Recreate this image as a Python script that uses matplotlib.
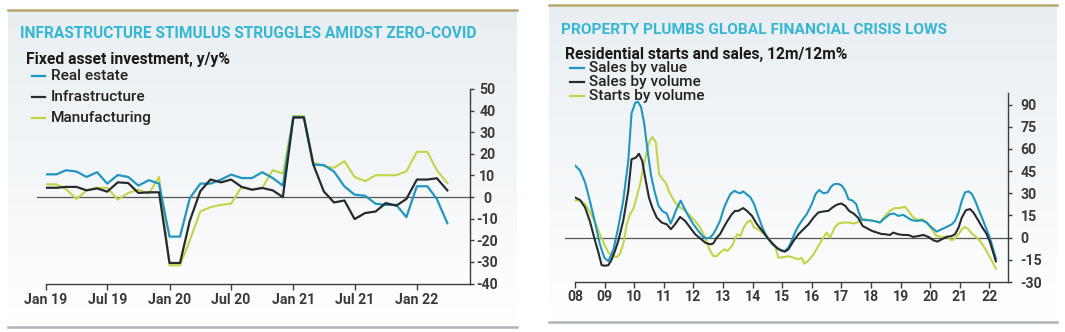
import numpy as np
import pandas as pd
import matplotlib
matplotlib.use("Agg")
import matplotlib.pyplot as plt
from matplotlib.lines import Line2D
from matplotlib.colors import LinearSegmentedColormap

plt.rcParams['font.family'] = ['Roboto', 'DejaVu Sans']

# ---------------- data: left chart (Fixed asset investment, y/y%) ----------------
fai_dates = pd.date_range("2019-01-01", periods=40, freq="MS")
real_estate = [10.5, 10.5, 12.4, 11.8, 9.3, 11.5, 6.2, 10.2, 9.3, 5.3, 7.8, 6.2,
               -18.3, -18.3, -0.5, 6.2, 6.2, 8.1, 10.4, 8.8, 8.8, 11.5, 8.8, 5.3,
               37.0, 37.0, 15.0, 14.8, 11.8, 4.9, 1.1, 0.6, -3.1, -3.6, -3.6, -9.3,
               5.0, 5.0, -0.9, -12.1]
infrastructure = [4.3, 4.3, 4.7, 4.7, 3.1, 4.0, 2.5, 6.8, 6.5, 1.9, 2.2, 2.2,
                  -30.5, -30.5, -11.0, 2.7, 8.1, 6.8, 8.1, 4.7, 3.4, 4.2, 3.1, 0.0,
                  36.8, 36.8, 15.0, 2.6, -2.5, -1.6, -10.2, -7.4, -6.7, -2.8, -4.0, -0.9,
                  8.1, 8.1, 8.7, 3.1]
manufacturing = [5.9, 5.9, 3.7, -0.9, 3.1, 4.3, 4.3, -1.2, 1.9, 3.4, 1.6, 9.3,
                 -31.6, -31.6, -20.0, -6.7, -4.7, -3.6, -3.1, 4.7, 3.4, 4.2, 12.4, 10.9,
                 37.5, 37.5, 16.0, 14.3, 13.5, 16.6, 9.3, 7.3, 10.1, 10.1, 10.1, 11.9,
                 20.9, 20.9, 12.4, 6.5]
fai_names = ["Real estate", "Infrastructure", "Manufacturing"]
fai_ticks = ["Jan 19", "Jul 19", "Jan 20", "Jul 20", "Jan 21", "Jul 21", "Jan 22"]

# ---------------- data: right chart (Residential starts and sales, 12m/12m%) ----------------
val_t = [2008.00, 2008.17, 2008.34, 2008.50, 2008.68, 2008.84, 2008.99, 2009.13, 2009.30, 2009.46,
         2009.63, 2009.80, 2009.91, 2010.03, 2010.12, 2010.23, 2010.34, 2010.45, 2010.57, 2010.68,
         2010.82, 2010.95, 2011.10, 2011.23, 2011.32, 2011.43, 2011.57, 2011.68, 2011.83, 2012.00,
         2012.17, 2012.33, 2012.45, 2012.56, 2012.67, 2012.79, 2012.90, 2013.02, 2013.14, 2013.25,
         2013.39, 2013.48, 2013.59, 2013.68, 2013.79, 2013.93, 2014.05, 2014.19, 2014.33, 2014.50,
         2014.67, 2014.82, 2014.96, 2015.09, 2015.21, 2015.32, 2015.43, 2015.55, 2015.66, 2015.83,
         2016.00, 2016.13, 2016.25, 2016.39, 2016.54, 2016.65, 2016.77, 2016.90, 2017.02, 2017.13,
         2017.24, 2017.38, 2017.50, 2017.59, 2017.68, 2017.80, 2017.93, 2018.10, 2018.30, 2018.47,
         2018.64, 2018.78, 2018.92, 2019.09, 2019.23, 2019.38, 2019.54, 2019.71, 2019.88, 2020.05,
         2020.22, 2020.39, 2020.56, 2020.73, 2020.84, 2020.96, 2021.07, 2021.18, 2021.29, 2021.41,
         2021.52, 2021.63, 2021.75, 2021.86, 2021.97, 2022.03, 2022.22]
sales_value = [48.8, 45.4, 37.4, 25.0, 10.0, -4.5, -13.6, -15.9, -7.9, 6.8,
               25.0, 52.0, 84.0, 91.0, 92.0, 88.4, 77.0, 59.0, 42.0, 32.0,
               21.5, 18.0, 16.3, 9.5, 13.6, 19.3, 25.0, 20.4, 14.7, 9.0,
               4.5, 0.5, -0.5, 0.0, 2.3, 6.8, 11.3, 19.3, 25.0, 29.5,
               31.7, 30.6, 30.0, 31.3, 29.5, 27.2, 22.7, 14.7, 6.8, 0.0,
               -4.5, -6.8, -8.6, -9.0, -6.8, -2.3, 3.4, 7.9, 11.3, 15.9,
               22.7, 29.5, 32.2, 30.0, 30.6, 34.5, 36.3, 36.3, 35.1, 31.7,
               26.0, 25.0, 22.7, 17.0, 12.5, 11.8, 11.8, 11.3, 10.2, 13.2,
               15.9, 16.3, 14.7, 15.4, 13.6, 11.8, 11.3, 11.8, 10.2, 6.8,
               4.1, 5.7, 7.3, 9.0, 11.3, 17.0, 25.0, 30.6, 31.3, 29.5,
               25.0, 19.3, 13.6, 7.9, 2.3, -1.1, -14.0]

vol_t = [2008.00, 2008.17, 2008.34, 2008.50, 2008.68, 2008.79, 2008.90, 2009.01, 2009.13, 2009.24,
         2009.35, 2009.46, 2009.63, 2009.80, 2009.91, 2010.05, 2010.16, 2010.27, 2010.39, 2010.50,
         2010.61, 2010.76, 2010.93, 2011.10, 2011.24, 2011.38, 2011.55, 2011.72, 2011.89, 2012.06,
         2012.23, 2012.40, 2012.56, 2012.67, 2012.79, 2012.90, 2013.02, 2013.15, 2013.30, 2013.41,
         2013.52, 2013.68, 2013.81, 2013.98, 2014.15, 2014.33, 2014.50, 2014.67, 2014.84, 2014.96,
         2015.09, 2015.21, 2015.38, 2015.55, 2015.72, 2015.89, 2016.06, 2016.22, 2016.39, 2016.56,
         2016.70, 2016.84, 2016.99, 2017.13, 2017.26, 2017.41, 2017.56, 2017.72, 2017.87, 2018.04,
         2018.21, 2018.35, 2018.47, 2018.64, 2018.75, 2018.92, 2019.09, 2019.26, 2019.43, 2019.60,
         2019.77, 2019.94, 2020.11, 2020.25, 2020.39, 2020.56, 2020.73, 2020.84, 2020.96, 2021.07,
         2021.21, 2021.35, 2021.46, 2021.60, 2021.75, 2021.90, 2022.01, 2022.22]
sales_volume = [27.2, 25.4, 20.4, 11.3, -2.3, -10.0, -18.6, -19.0, -18.6, -14.7,
                -9.0, -2.3, 11.3, 31.7, 53.0, 54.0, 56.7, 52.0, 38.5, 27.0,
                20.4, 13.6, 10.2, 9.0, 5.7, 9.0, 14.0, 11.3, 6.8, 2.3,
                -0.5, -3.4, -4.5, -4.0, 0.0, 2.3, 6.8, 11.3, 15.9, 18.1,
                18.1, 20.0, 18.1, 14.7, 9.0, 4.5, 0.0, -4.0, -7.3, -8.6,
                -9.5, -7.9, -2.3, 2.3, 5.7, 9.0, 13.6, 17.0, 17.7, 18.1,
                20.4, 22.2, 23.1, 21.5, 18.1, 16.3, 13.6, 7.9, 6.3, 4.5,
                3.4, 2.5, 2.3, 1.8, 3.4, 2.3, 1.8, 1.8, 0.5, 1.1,
                1.8, 0.5, -1.8, -2.7, -1.1, 0.5, 1.1, 2.3, 6.8, 13.6,
                18.6, 19.3, 17.0, 12.5, 7.3, 2.7, -2.3, -16.0]

st_t = [2008.00, 2008.17, 2008.34, 2008.51, 2008.68, 2008.84, 2008.99, 2009.13, 2009.30, 2009.41,
        2009.52, 2009.63, 2009.75, 2009.86, 2009.97, 2010.08, 2010.20, 2010.31, 2010.42, 2010.53,
        2010.61, 2010.73, 2010.84, 2010.95, 2011.06, 2011.18, 2011.38, 2011.55, 2011.72, 2011.89,
        2012.06, 2012.23, 2012.40, 2012.54, 2012.67, 2012.79, 2012.90, 2013.04, 2013.15, 2013.30,
        2013.48, 2013.59, 2013.70, 2013.81, 2013.93, 2014.05, 2014.19, 2014.33, 2014.50, 2014.61,
        2014.76, 2014.87, 2015.04, 2015.21, 2015.38, 2015.55, 2015.66, 2015.75, 2015.89, 2016.06,
        2016.22, 2016.39, 2016.50, 2016.62, 2016.77, 2016.90, 2017.07, 2017.26, 2017.41, 2017.52,
        2017.63, 2017.80, 2017.93, 2018.10, 2018.30, 2018.47, 2018.64, 2018.81, 2018.98, 2019.15,
        2019.26, 2019.43, 2019.60, 2019.74, 2019.88, 2020.05, 2020.22, 2020.39, 2020.56, 2020.73,
        2020.84, 2020.96, 2021.07, 2021.18, 2021.29, 2021.41, 2021.58, 2021.75, 2021.90, 2022.03,
        2022.22]
starts_volume = [25.0, 25.4, 22.7, 17.0, 10.2, 2.3, -4.5, -10.2, -12.5, -13.2,
                 -10.9, -4.5, 9.0, 15.9, 19.3, 27.2, 36.3, 47.6, 57.8, 65.8,
                 68.0, 64.6, 43.0, 39.7, 37.4, 31.0, 23.8, 20.4, 18.1, 14.7,
                 11.3, 6.8, 0.0, -7.9, -12.5, -12.5, -10.2, -7.9, -9.0, -5.7,
                 2.3, 1.1, 6.8, 10.2, 11.8, 6.8, 5.7, 3.4, 0.0, -2.3,
                 -5.5, -13.6, -13.2, -12.5, -13.6, -14.7, -13.6, -17.7, -15.4, -11.3,
                 -5.7, 0.0, 3.4, 0.0, 6.8, 9.5, 10.2, 10.2, 9.5, 10.2,
                 11.3, 12.5, 11.8, 11.3, 10.2, 14.7, 18.1, 20.0, 20.0, 20.9,
                 18.1, 13.6, 11.8, 12.5, 10.2, 5.7, 1.1, 0.5, 0.5, -1.8,
                 -0.5, 2.3, 5.7, 7.3, 5.7, 2.7, 0.0, -4.0, -9.0, -13.6,
                 -21.0]
prop_names = ["Sales by value", "Sales by volume", "Starts by volume"]
prop_years = list(range(2008, 2023))
prop_ticks = ["08", "09", "10", "11", "12", "13", "14", "15", "16", "17", "18", "19", "20", "21", "22"]

# ---------------- style ----------------
C_BLUE = "#1e96c0"
C_DARK = "#262b2f"
C_YEL = "#c4d447"
C_TITLE = "#36b6d2"
C_AX = "#3c3c3c"
W, H = 1065, 332

fig = plt.figure(figsize=(W / 100, H / 100), dpi=100)
fig.patch.set_facecolor("white")


def axes_px(x0, y0, x1, y1, **kw):
    return fig.add_axes([x0 / W, 1 - y1 / H, (x1 - x0) / W, (y1 - y0) / H], **kw)


def fx(px):
    return px / W


def fy(py):
    return 1 - py / H


# panels with gradient background
grad_cmap = LinearSegmentedColormap.from_list("g", ["#ffffff", "#e8eef2"])
grad = np.linspace(0, 1, 256).reshape(-1, 1)
for (x0, y0, x1, y1) in [(8, 10, 517, 327), (549, 5, 1057, 322)]:
    bg = axes_px(x0, y0, x1, y1, zorder=-5)
    bg.imshow(grad, aspect="auto", cmap=grad_cmap, origin="lower", extent=[0, 1, 0, 1])
    bg.axis("off")
    fig.add_artist(Line2D([fx(x0), fx(x1)], [fy(y0), fy(y0)], color="#b9a76c", lw=1.8))
    fig.add_artist(Line2D([fx(x0), fx(x1)], [fy(y1), fy(y1)], color="#aeb4b9", lw=1.8))

LBL_KW = dict(fontsize=10.2, fontweight="bold", color="#3a3a3a")

# ---------------- left chart ----------------
ax1 = axes_px(46, 89, 470, 283.5)
ax1.set_facecolor("none")
ax1.plot(fai_dates, manufacturing, color=C_YEL, lw=1.5, zorder=3)
ax1.plot(fai_dates, real_estate, color=C_BLUE, lw=1.6, zorder=4)
ax1.plot(fai_dates, infrastructure, color=C_DARK, lw=1.6, zorder=5)
ax1.plot([-0.022, 1], [0, 0], transform=ax1.get_yaxis_transform(), clip_on=False,
         color="#555555", lw=0.9, zorder=2)
ax1.set_ylim(-40, 50)
ax1.set_xlim(pd.Timestamp("2019-01-01"), pd.Timestamp("2022-06-07"))
tick_dates = pd.date_range("2019-01-01", periods=len(fai_ticks), freq="6MS")
ax1.set_xticks(tick_dates)
ax1.set_xticklabels(fai_ticks, **LBL_KW)
ax1.set_yticks(range(-40, 51, 10))
ax1.set_yticklabels([str(v) for v in range(-40, 51, 10)], **LBL_KW)
ax1.yaxis.tick_right()
for s in ["left", "top"]:
    ax1.spines[s].set_visible(False)
for s in ["right", "bottom"]:
    ax1.spines[s].set_color(C_AX)
    ax1.spines[s].set_linewidth(1.0)
ax1.tick_params(axis="y", direction="out", length=3, width=1, color=C_AX, pad=9.5)
ax1.tick_params(axis="x", direction="out", length=4, width=1, color=C_AX, pad=2.8)
for lbl in ax1.get_yticklabels():
    lbl.set_horizontalalignment("center")

# ---------------- right chart ----------------
ax2 = axes_px(575, 92.7, 1008, 282)
ax2.set_facecolor("none")
ax2.plot(st_t, starts_volume, color=C_YEL, lw=1.5, zorder=3)
ax2.plot(val_t, sales_value, color=C_BLUE, lw=1.5, zorder=4)
ax2.plot(vol_t, sales_volume, color=C_DARK, lw=1.5, zorder=5)
ax2.plot([-0.023, 1], [0, 0], transform=ax2.get_yaxis_transform(), clip_on=False,
         color="#555555", lw=0.9, zorder=2)
ax2.set_ylim(-30, 98)
ax2.set_xlim(2008, 2022.63)
ax2.set_xticks(prop_years)
ax2.set_xticklabels(prop_ticks, **LBL_KW)
ax2.set_yticks(range(-30, 91, 15))
ax2.set_yticklabels([str(v) for v in range(-30, 91, 15)], **LBL_KW)
ax2.yaxis.tick_right()
for s in ["left", "top"]:
    ax2.spines[s].set_visible(False)
for s in ["right", "bottom"]:
    ax2.spines[s].set_color(C_AX)
    ax2.spines[s].set_linewidth(1.0)
ax2.tick_params(axis="y", direction="out", length=3, width=1, color=C_AX, pad=6)
ax2.tick_params(axis="x", direction="out", length=4, width=1, color=C_AX, pad=1.8)

# ---------------- titles and legends ----------------
texts = []


def add_text(x, y, s, width, **kw):
    t = fig.text(fx(x), fy(y), s, ha="left", va="center", **kw)
    texts.append((t, width))
    return t


add_text(20, 34, "INFRASTRUCTURE STIMULUS STRUGGLES AMIDST ZERO-COVID", 457,
         fontsize=10, fontweight="bold", color=C_TITLE)
add_text(26.4, 59.5, "Fixed asset investment, y/y%", 203.5,
         fontsize=10, fontweight="semibold", color="#1a1a1a")
add_text(561.4, 30, "PROPERTY PLUMBS GLOBAL FINANCIAL CRISIS LOWS", 385,
         fontsize=10, fontweight="bold", color=C_TITLE)
add_text(565.4, 54.5, "Residential starts and sales, 12m/12m%", 282,
         fontsize=10, fontweight="semibold", color="#1a1a1a")

leg_groups = []
leg1_y = [76.4, 97, 118.3]
grp = []
for name, col, y in zip(fai_names, [C_BLUE, C_DARK, C_YEL], leg1_y):
    fig.add_artist(Line2D([fx(32), fx(45)], [fy(y), fy(y)], color=col, lw=1.6))
    grp.append(fig.text(fx(50.7), fy(y), name, ha="left", va="center",
                        fontsize=9.5, fontweight="medium", color="#222222"))
leg_groups.append((grp, 77.8))

leg2_y = [67.6, 81.8, 95.7]
grp = []
for name, col, y in zip(prop_names, [C_BLUE, C_DARK, C_YEL], leg2_y):
    fig.add_artist(Line2D([fx(570), fx(584)], [fy(y), fy(y)], color=col, lw=1.6))
    grp.append(fig.text(fx(589), fy(y), name, ha="left", va="center",
                        fontsize=9.5, fontweight="medium", color="#222222"))
leg_groups.append((grp, 99))

# fit text widths to the reference
fig.canvas.draw()
r = fig.canvas.get_renderer()
for t, w in texts:
    bb = t.get_window_extent(r)
    t.set_fontsize(t.get_fontsize() * w / bb.width)
for grp, w in leg_groups:
    bb = grp[0].get_window_extent(r)
    fs = grp[0].get_fontsize() * w / bb.width
    for t in grp:
        t.set_fontsize(fs)

fig.savefig("out.png", dpi=100)
